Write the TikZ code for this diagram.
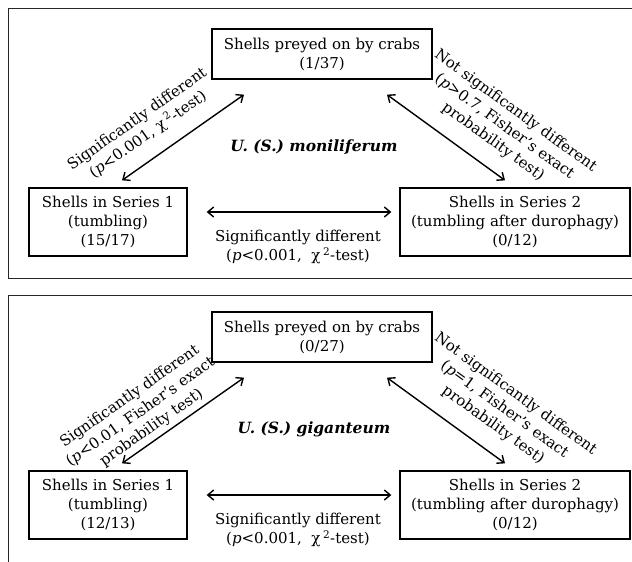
\documentclass[tikz,border=0pt]{standalone}
\usepackage{fontspec}
\setmainfont{DejaVu Serif}
\usetikzlibrary{arrows.meta,calc}
\begin{document}
\begin{tikzpicture}[x=1pt,y=-1pt,
  txt/.style={font=\fontsize{15}{19}\selectfont},
  box/.style={txt, draw, line width=1.3pt, inner sep=0pt, align=center},
  lab/.style={txt, align=center, inner sep=0pt},
  spc/.style={font=\fontsize{15.5}{19}\selectfont\bfseries\itshape, inner sep=0pt},
  dbl/.style={{Straight Barb[length=6pt,width=10pt,line width=1.4pt]}-{Straight Barb[length=6pt,width=10pt,line width=1.4pt]}, line width=1.4pt},
  frame/.style={line width=1pt, draw=black!85}]
\useasboundingbox (0,0) rectangle (632,562);
% panel frames
\draw[frame] (632,8) -- (8,8) -- (8,278) -- (632,278);
\draw[frame] (632,295) -- (8,295) -- (8,562);

% ---------- top panel ----------
\node[box, minimum width=220pt, minimum height=50pt] (top1) at (322,54) {Shells preyed on by crabs\\(1/37)};
\node[box, minimum width=158pt, minimum height=68pt] (sa1) at (108,222) {Shells in Series 1\\(tumbling)\\(15/17)};
\node[box, minimum width=230pt, minimum height=68pt] (sb1) at (515,222) {Shells in Series 2\\(tumbling after durophagy)\\(0/12)};
\draw[dbl] ($(sa1.north)+(14,-7)$) -- ($(top1.south)+(-78,15)$)
  node[lab, pos=0.32, sloped, above=14pt] (l1) {Significantly different\\(\textit{p}<0.001, χ\,\textsuperscript{2}-test)};
\draw[dbl] ($(top1.south)+(65,15)$) -- ($(sb1.north)+(-10,-7)$)
  node[lab, pos=0.78, sloped, above=16pt] (r1) {Not significantly different\\(\textit{p}>0.7, Fisher's exact\\probability test)};
\draw[dbl] ($(sa1.east)+(19,-10)$) -- ($(sb1.west)+(-8,-10)$);
\node[lab] (h1) at (298,247) {Significantly different\\(\textit{p}<0.001,\ \ χ\,\textsuperscript{2}-test)};
\node[spc] (sp1) at (314,147) {U. (S.) moniliferum};

% ---------- bottom panel ----------
\node[box, minimum width=220pt, minimum height=50pt] (top2) at (322,337) {Shells preyed on by crabs\\(0/27)};
\node[box, minimum width=158pt, minimum height=68pt] (sa2) at (108,505) {Shells in Series 1\\(tumbling)\\(12/13)};
\node[box, minimum width=230pt, minimum height=68pt] (sb2) at (515,505) {Shells in Series 2\\(tumbling after durophagy)\\(0/12)};
\draw[dbl] ($(sa2.north)+(14,-7)$) -- ($(top2.south)+(-78,15)$)
  node[lab, pos=0.3, sloped, above=4pt] (l2) {Significantly different\\(\textit{p}<0.01, Fisher's exact\\probability test)};
\draw[dbl] ($(top2.south)+(65,15)$) -- ($(sb2.north)+(-10,-7)$)
  node[lab, pos=0.78, sloped, above=16pt] (r2) {Not significantly different\\(\textit{p}=1, Fisher's exact\\probability test)};
\draw[dbl] ($(sa2.east)+(19,-10)$) -- ($(sb2.west)+(-8,-10)$);
\node[lab] (h2) at (298,530) {Significantly different\\(\textit{p}<0.001,\ \ χ\,\textsuperscript{2}-test)};
\node[spc] (sp2) at (314,429) {U. (S.) giganteum};
\end{tikzpicture}
\end{document}
